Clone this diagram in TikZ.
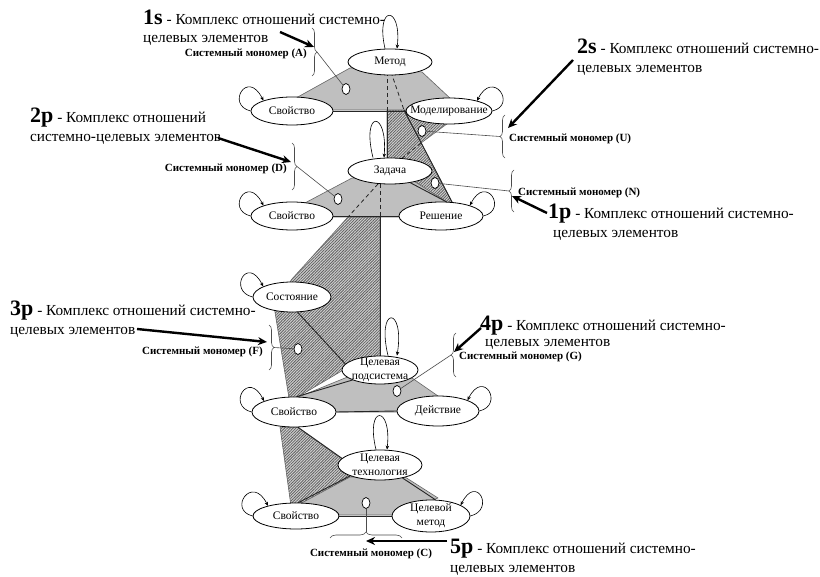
\documentclass[tikz,border=0pt]{standalone}
\usepackage{fontspec}
\setmainfont{Liberation Serif}
\usetikzlibrary{patterns.meta,decorations.pathreplacing,arrows.meta,shapes.geometric}
\pgfdeclarelayer{back}
\pgfsetlayers{back,main}

\tikzset{
  el/.style={ellipse, draw=black, line width=0.8pt, fill=white, inner sep=0pt},
  eltext/.style={inner sep=0pt, align=center, font=\fontsize{11.5}{14}\selectfont},
  gface/.style={fill=black!25, draw=black!60, line width=0.6pt, line join=round},
  hface/.style={preaction={fill=black!18}, pattern={Lines[angle=45,distance=2pt,line width=0.8pt]}, pattern color=black!62, draw=black!60, line width=0.6pt, line join=round},
  edgeline/.style={draw=black!85, line width=0.9pt},
  hiddenedge/.style={draw=black!85, line width=0.8pt, dash pattern=on 4pt off 3pt},
  selfloop/.style={draw=black, line width=0.6pt, -{Stealth[length=4pt,width=3.5pt]}},
  monodot/.style={ellipse, draw=black, fill=white, minimum width=8pt, minimum height=11pt, inner sep=0pt, line width=0.7pt},
  leader/.style={draw=black!70, line width=0.6pt},
  bracket/.style={draw=black!70, line width=0.6pt, decorate, decoration={brace, amplitude=5pt}},
  monolabel/.style={inner sep=0pt, font=\fontsize{11}{13}\selectfont\bfseries},
  captxt/.style={inner sep=0pt, anchor=base west, font=\fontsize{15.3}{18}\selectfont},
  pointer/.style={draw=black, line width=2.4pt, -{Stealth[length=9pt,width=8pt]}},
}
\newcommand{\capnum}[1]{{\fontsize{22}{22}\selectfont\bfseries #1}}

\begin{document}
\begin{tikzpicture}[x=1pt,y=-1pt]
\useasboundingbox (0,0) rectangle (820,577);

% ---- elements of the system (ellipses) ----
\node[el, minimum width=84pt, minimum height=26pt] (metod) at (390,62) {};
\node[eltext] (metodT) at (metod) {Метод};
\node[el, minimum width=82pt, minimum height=28pt] (sv1) at (292,111) {};
\node[eltext] (sv1T) at (sv1) {Свойство};
\node[el, minimum width=86pt, minimum height=26pt] (model) at (449,111) {};
\node[eltext] (modelT) at (model) {Моделирование};
\node[el, minimum width=84pt, minimum height=26pt] (zad) at (390,171) {};
\node[eltext] (zadT) at (zad) {Задача};
\node[el, minimum width=82pt, minimum height=28pt] (sv2) at (292,216) {};
\node[eltext] (sv2T) at (sv2) {Свойство};
\node[el, minimum width=84pt, minimum height=28pt] (resh) at (441,216) {};
\node[eltext] (reshT) at (resh) {Решение};
\node[el, minimum width=78pt, minimum height=30pt] (sost) at (292,297) {};
\node[eltext] (sostT) at (sost) {Состояние};
\node[el, minimum width=76pt, minimum height=28pt] (tps) at (380,370) {};
\node[eltext] (tpsT) at (tps) {Целевая\\подсистема};
\node[el, minimum width=84pt, minimum height=30pt] (sv3) at (294,412) {};
\node[eltext] (sv3T) at (sv3) {Свойство};
\node[el, minimum width=82pt, minimum height=30pt] (deis) at (438,411) {};
\node[eltext] (deisT) at (deis) {Действие};
\node[el, minimum width=84pt, minimum height=30pt] (tt) at (380,465) {};
\node[eltext] (ttT) at (tt) {Целевая\\технология};
\node[el, minimum width=86pt, minimum height=26pt] (sv4) at (296,516) {};
\node[eltext] (sv4T) at (sv4) {Свойство};
\node[el, minimum width=78pt, minimum height=32pt] (tm) at (431,516) {};
\node[eltext] (tmT) at (tm) {Целевой\\метод};

% ---- faces and edges, behind the ellipses ----
\begin{pgfonlayer}{back}
  \fill[white] (0,0) rectangle (820,577);
  % hatched faces
  \path[hface] (387,110) -- (404,110) -- (452,202) -- (447,203) -- (410,180) -- (387,170) -- cycle;
  \path[hface] (404,110) -- (455,118) -- (421,143) -- cycle;
  \path[hface] (348,217) -- (380,217) -- (380,360) -- (350,366) -- (296,398) -- (289,398) -- (274,306) -- (292,279) -- cycle;
  \path[hface] (280,427) -- (297,427) -- (342,459) -- (352,477) -- (298,505) -- (291,506) -- cycle;
  % grey faces
  \path[gface] (350,68) -- (422,72) -- (452,100) -- (407,110) -- (333,110) -- (296,98) -- cycle;
  \path[gface] (352,178) -- (412,180) -- (447,202) -- (400,217) -- (333,217) -- (303,204) -- cycle;
  \path[gface] (350,376) -- (412,378) -- (438,396) -- (397,412) -- (337,412) -- (296,398) -- cycle;
  \path[gface] (350,477) -- (405,477) -- (438,498) -- (392,515) -- (340,515) -- (298,505) -- cycle;
  % hidden edges
  \draw[hiddenedge] (387,72) -- (387,110);
  \draw[hiddenedge] (391,72) -- (404,110);
  \draw[hiddenedge] (421,143) -- (400,160);
  \draw[hiddenedge] (380,184) -- (380,217);
  \draw[hiddenedge] (378,184) -- (348,217);
  % visible edges
  \draw[edgeline] (sv1.east) -- (model.west);
  \draw[edgeline] (387,110) -- (387,158);
  \draw[edgeline] (404,110) -- (452,202);
  \draw[edgeline] (sv2.east) -- (resh.west);
  \draw[edgeline] (zad.330) -- (resh.70);
  \draw[edgeline] (380,217) -- (tps.north);
  \draw[edgeline] (sost.290) -- (tps.170);
  \draw[edgeline] (sv3.80) -- (tps.200);
  \draw[edgeline] (sv3.east) -- (deis.west);
  \draw[edgeline] (sv3.285) -- (tt.170);
  \draw[edgeline] (tt.200) -- (sv4.80);
  \draw[edgeline] (tt.330) -- (tm.75);
  \draw[edgeline] (sv4.east) -- (tm.west);
\end{pgfonlayer}

% ---- self loops ----
\draw[selfloop] ([xshift=-5pt]metod.north) .. controls +(-10,-44) and +(5,-44) .. ([xshift=7pt]metod.north);
\draw[selfloop] ([xshift=-17pt]zad.north) .. controls +(-12,-48) and +(4,-48) .. ([xshift=-6pt]zad.north);
\draw[selfloop] ([xshift=8pt]tps.north) .. controls +(-12,-50) and +(8,-50) .. ([xshift=17pt]tps.north);
\draw[selfloop] ([xshift=-4pt]tt.north) .. controls +(-11,-45) and +(5,-45) .. ([xshift=7pt]tt.north);
\foreach \n in {sv1,sv2,sost,sv3,sv4}
  \draw[selfloop] (\n.west) .. controls +(-25,-6) and +(-16,-32) .. (\n.160);
\foreach \n in {model,resh,deis,tm}
  \draw[selfloop] (\n.east) .. controls +(25,-6) and +(16,-32) .. (\n.20);

% ---- monomer markers ----
\node[monodot] (cA) at (346,89) {};
\node[monodot] (cU) at (422,131) {};
\node[monodot] (cD) at (338,199) {};
\node[monodot] (cN) at (435,183) {};
\node[monodot] (cF) at (298,349) {};
\node[monodot] (cG) at (397,391) {};
\node[monodot] (cC) at (366,503) {};

% brace tips
\coordinate (bA) at (317,52);
\coordinate (bU) at (500,136.5);
\coordinate (bN) at (509,191);
\coordinate (bD) at (297,166.5);
\coordinate (bF) at (274,347.5);
\coordinate (bG) at (451,355);
\coordinate (bC) at (366,532);

\draw[bracket] (312,28) -- (312,76);
\draw[bracket] (505,158) -- (505,115);
\draw[bracket] (514,212) -- (514,170);
\draw[bracket] (292,143) -- (292,190);
\draw[bracket] (269,325) -- (269,370);
\draw[bracket] (456,377) -- (456,333);
\draw[bracket, decoration={brace, amplitude=6pt}] (330,538) -- (402,538);

\draw[leader] (cA) -- (bA);
\draw[leader] (cU) -- (bU);
\draw[leader] (cN) -- (bN);
\draw[leader] (cD) -- (bD);
\draw[leader] (cF) -- (bF);
\draw[leader] (cG) -- (bG);
\draw[leader] (cC) -- (bC);

\node[monolabel, anchor=base east] (mA) at (307,57) {Системный мономер (A)};
\node[monolabel, anchor=base east] (mD) at (287,172) {Системный мономер (D)};
\node[monolabel, anchor=base east] (mF) at (263,355) {Системный мономер (F)};
\node[monolabel, anchor=base west] (mU) at (509,142) {Системный мономер (U)};
\node[monolabel, anchor=base west] (mN) at (518,196) {Системный мономер (N)};
\node[monolabel, anchor=base west] (mG) at (459,360) {Системный мономер (G)};
\node[monolabel, anchor=base] (mC) at (371,556) {Системный мономер (C)};

% ---- captions ----
\node[captxt] (s1a) at (143,25) {\capnum{1s} - Комплекс отношений системно-};
\node[captxt] (s1b) at (143,43) {целевых элементов};
\node[captxt] (s2a) at (577,54) {\capnum{2s} - Комплекс отношений системно-};
\node[captxt] (s2b) at (577,73) {целевых элементов};
\node[captxt] (p2a) at (30,123) {\capnum{2p} - Комплекс отношений};
\node[captxt] (p2b) at (30,142) {системно-целевых элементов};
\node[captxt] (p1a) at (548,219) {\capnum{1p} - Комплекс отношений системно-};
\node[captxt] (p1b) at (553,238) {целевых элементов};
\node[captxt] (p3a) at (10,316) {\capnum{3p} - Комплекс отношений системно-};
\node[captxt] (p3b) at (10,335) {целевых элементов};
\node[captxt] (p4a) at (480,331) {\capnum{4p} - Комплекс отношений системно-};
\node[captxt] (p4b) at (485,347) {целевых элементов};
\node[captxt] (p5a) at (450,553) {\capnum{5p} - Комплекс отношений системно-};
\node[captxt] (p5b) at (450,572) {целевых элементов};

% ---- pointers from captions to monomers ----
\coordinate (q1s) at (280,32);   \coordinate (e1s) at (314,47);
\coordinate (q2s) at (573,60);   \coordinate (e2s) at (508,128);
\coordinate (q2p) at (218,138);  \coordinate (e2p) at (291,162);
\coordinate (q1p) at (547,213);  \coordinate (e1p) at (512,196);
\coordinate (q3p) at (137,329);  \coordinate (e3p) at (267,342);
\coordinate (q4p) at (481,328);  \coordinate (e4p) at (454,352);
\coordinate (q5p) at (447,541);  \coordinate (e5p) at (366,541);
\draw[pointer] (q1s) -- (e1s);
\draw[pointer] (q2s) -- (e2s);
\draw[pointer] (q2p) -- (e2p);
\draw[pointer] (q1p) -- (e1p);
\draw[pointer] (q3p) -- (e3p);
\draw[pointer] (q4p) -- (e4p);
\draw[pointer] (q5p) -- (e5p);
\end{tikzpicture}
\end{document}
